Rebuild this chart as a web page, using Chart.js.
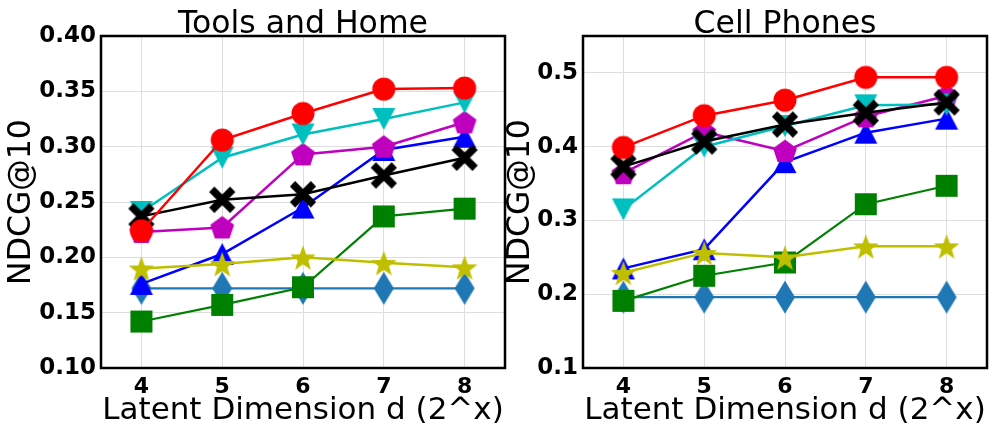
<!DOCTYPE html>
<html>
<head>
<meta charset="utf-8">
<script src="https://cdn.jsdelivr.net/npm/chart.js@4/dist/chart.umd.min.js"></script>
<style>
  html, body { margin: 0; padding: 0; background: #fff; }
  #wrap { position: relative; width: 992px; height: 431px; overflow: hidden; }
  canvas { position: absolute; top: 0; }
</style>
</head>
<body>
<div id="wrap">
  <canvas id="c1" width="520" height="431" style="left:0px"></canvas>
  <canvas id="c2" width="492" height="431" style="left:500px"></canvas>
</div>
<script>
// ---- data ----
const categories = ['4', '5', '6', '7', '8'];

const toolsRed      = [0.224, 0.306, 0.330, 0.352, 0.353];
const toolsBlack    = [0.237, 0.252, 0.257, 0.274, 0.290];
const toolsCyan     = [0.241, 0.290, 0.311, 0.325, 0.340];
const toolsMagenta  = [0.223, 0.227, 0.293, 0.300, 0.322];
const toolsYellow   = [0.190, 0.194, 0.200, 0.195, 0.191];
const toolsBlue     = [0.176, 0.203, 0.245, 0.297, 0.309];
const toolsGreen    = [0.142, 0.157, 0.173, 0.237, 0.244];
const toolsDiamond  = [0.172, 0.172, 0.172, 0.172, 0.172];

const phonesRed     = [0.399, 0.442, 0.463, 0.494, 0.494];
const phonesBlack   = [0.373, 0.407, 0.430, 0.446, 0.460];
const phonesCyan    = [0.315, 0.400, 0.428, 0.456, 0.457];
const phonesMagenta = [0.364, 0.420, 0.394, 0.441, 0.469];
const phonesYellow  = [0.229, 0.256, 0.250, 0.265, 0.265];
const phonesBlue    = [0.235, 0.261, 0.379, 0.419, 0.438];
const phonesGreen   = [0.191, 0.225, 0.243, 0.322, 0.347];
const phonesDiamond = [0.196, 0.196, 0.196, 0.196, 0.196];

const toolsTicks  = [0.10, 0.15, 0.20, 0.25, 0.30, 0.35, 0.40];
const phonesTicks = [0.1, 0.2, 0.3, 0.4, 0.5];

// ---- marker images ----
function marker(shape, color) {
  const s = 40, c = s / 2;
  const cv = document.createElement('canvas');
  cv.width = s; cv.height = s;
  const g = cv.getContext('2d');
  g.fillStyle = color; g.strokeStyle = color;
  g.beginPath();
  if (shape === 'circle') {
    g.arc(c, c, 11.5, 0, Math.PI * 2); g.fill();
  } else if (shape === 'square') {
    g.fillRect(c - 11, c - 11, 22, 22);
  } else if (shape === 'tri-up') {
    g.moveTo(c, c - 11); g.lineTo(c + 11.5, c + 11); g.lineTo(c - 11.5, c + 11); g.closePath(); g.fill();
  } else if (shape === 'tri-down') {
    g.moveTo(c, c + 11); g.lineTo(c + 11.5, c - 11); g.lineTo(c - 11.5, c - 11); g.closePath(); g.fill();
  } else if (shape === 'diamond') {
    g.moveTo(c, c - 16.5); g.lineTo(c + 10, c); g.lineTo(c, c + 16.5); g.lineTo(c - 10, c); g.closePath(); g.fill();
  } else if (shape === 'pentagon') {
    for (let i = 0; i < 5; i++) {
      const a = -Math.PI / 2 + i * 2 * Math.PI / 5;
      const x = c + 12.5 * Math.cos(a), y = c + 1 + 12.5 * Math.sin(a);
      if (i === 0) g.moveTo(x, y); else g.lineTo(x, y);
    }
    g.closePath(); g.fill();
  } else if (shape === 'star') {
    for (let i = 0; i < 10; i++) {
      const r = i % 2 === 0 ? 13.5 : 5.5;
      const a = -Math.PI / 2 + i * Math.PI / 5;
      const x = c + r * Math.cos(a), y = c + 1.5 + r * Math.sin(a);
      if (i === 0) g.moveTo(x, y); else g.lineTo(x, y);
    }
    g.closePath(); g.fill();
  } else if (shape === 'x') {
    g.lineWidth = 7.5; g.lineCap = 'butt';
    g.moveTo(c - 10.5, c - 10.5); g.lineTo(c + 10.5, c + 10.5);
    g.moveTo(c + 10.5, c - 10.5); g.lineTo(c - 10.5, c + 10.5);
    g.stroke();
  }
  return cv;
}

const seriesStyle = [
  { color: '#ff0000', shape: 'circle',   w: 2.5 },
  { color: '#000000', shape: 'x',        w: 2.5 },
  { color: '#00bfbf', shape: 'tri-down', w: 2.5 },
  { color: '#bf00bf', shape: 'pentagon', w: 2.5 },
  { color: '#bfbf00', shape: 'star',     w: 2.5 },
  { color: '#0000ff', shape: 'tri-up',   w: 2.5 },
  { color: '#008000', shape: 'square',   w: 2.2 },
  { color: '#1f77b4', shape: 'diamond',  w: 2.2 }
];

function makeDatasets(arrs) {
  return arrs.map((d, i) => {
    const st = seriesStyle[i];
    return {
      data: d,
      borderColor: st.color,
      backgroundColor: st.color,
      borderWidth: st.w,
      pointStyle: marker(st.shape, st.color),
      pointRadius: 11,
      pointHoverRadius: 11,
      tension: 0,
      fill: false
    };
  });
}

const FONT = "'DejaVu Sans', sans-serif";

const boxPlugin = {
  id: 'box',
  afterDraw(chart) {
    const a = chart.chartArea, ctx = chart.ctx;
    ctx.save();
    ctx.strokeStyle = '#000';
    ctx.lineWidth = 2.5;
    ctx.strokeRect(a.left, a.top, a.right - a.left, a.bottom - a.top);
    // panel title, centred over the plot area
    ctx.fillStyle = '#000';
    ctx.font = '31.5px ' + FONT;
    ctx.textAlign = 'center';
    ctx.textBaseline = 'alphabetic';
    ctx.fillText(chart.options.panelTitle, (a.left + a.right) / 2, 33);
    ctx.restore();
  }
};

function makeChart(id, title, arrs, yMin, yMax, ticks, decimals, yWidth, padRight, yTitlePad) {
  return new Chart(document.getElementById(id), {
    type: 'line',
    data: { labels: categories, datasets: makeDatasets(arrs) },
    plugins: [boxPlugin],
    options: {
      panelTitle: title,
      responsive: false,
      animation: false,
      events: [],
      layout: { autoPadding: false, padding: { left: 0, right: padRight, top: 36, bottom: 0 } },
      plugins: {
        legend: { display: false },
        tooltip: { enabled: false },
        title: { display: false }
      },
      scales: {
        x: {
          type: 'category',
          offset: true,
          grid: { offset: false, color: '#dedede', lineWidth: 1, drawTicks: false },
          border: { display: false },
          ticks: {
            color: '#000', padding: 6,
            font: { family: FONT, size: 22, weight: 'bold' }
          },
          title: {
            display: true, text: 'Latent Dimension d (2^x)', color: '#000',
            font: { family: FONT, size: 31, weight: 'normal', lineHeight: 1.2 },
            padding: { top: 0, bottom: 1 }
          },
          afterFit(scale) { scale.height = 63; scale.paddingLeft = 0; scale.paddingRight = 0; }
        },
        y: {
          type: 'linear',
          min: yMin, max: yMax,
          afterBuildTicks(scale) { scale.ticks = ticks.map(v => ({ value: v })); },
          grid: { color: '#dedede', lineWidth: 1, drawTicks: false },
          border: { display: false },
          ticks: {
            color: '#000', padding: 5,
            font: { family: FONT, size: 23, weight: 'bold' },
            callback: v => Number(v).toFixed(decimals)
          },
          title: {
            display: true, text: 'NDCG@10', color: '#000',
            font: { family: FONT, size: 31.5, weight: 'normal', lineHeight: 1.2 },
            padding: { top: yTitlePad, bottom: 0 }
          },
          afterFit(scale) { scale.width = yWidth; scale.paddingTop = 0; scale.paddingBottom = 0; }
        }
      }
    }
  });
}

makeChart('c1', 'Tools and Home',
  [toolsRed, toolsBlack, toolsCyan, toolsMagenta, toolsYellow, toolsBlue, toolsGreen, toolsDiamond],
  0.10, 0.40, toolsTicks, 2, 101, 15, 3);

makeChart('c2', 'Cell Phones',
  [phonesRed, phonesBlack, phonesCyan, phonesMagenta, phonesYellow, phonesBlue, phonesGreen, phonesDiamond],
  0.1, 0.55, phonesTicks, 1, 83, 5, 1.5);
</script>
</body>
</html>
